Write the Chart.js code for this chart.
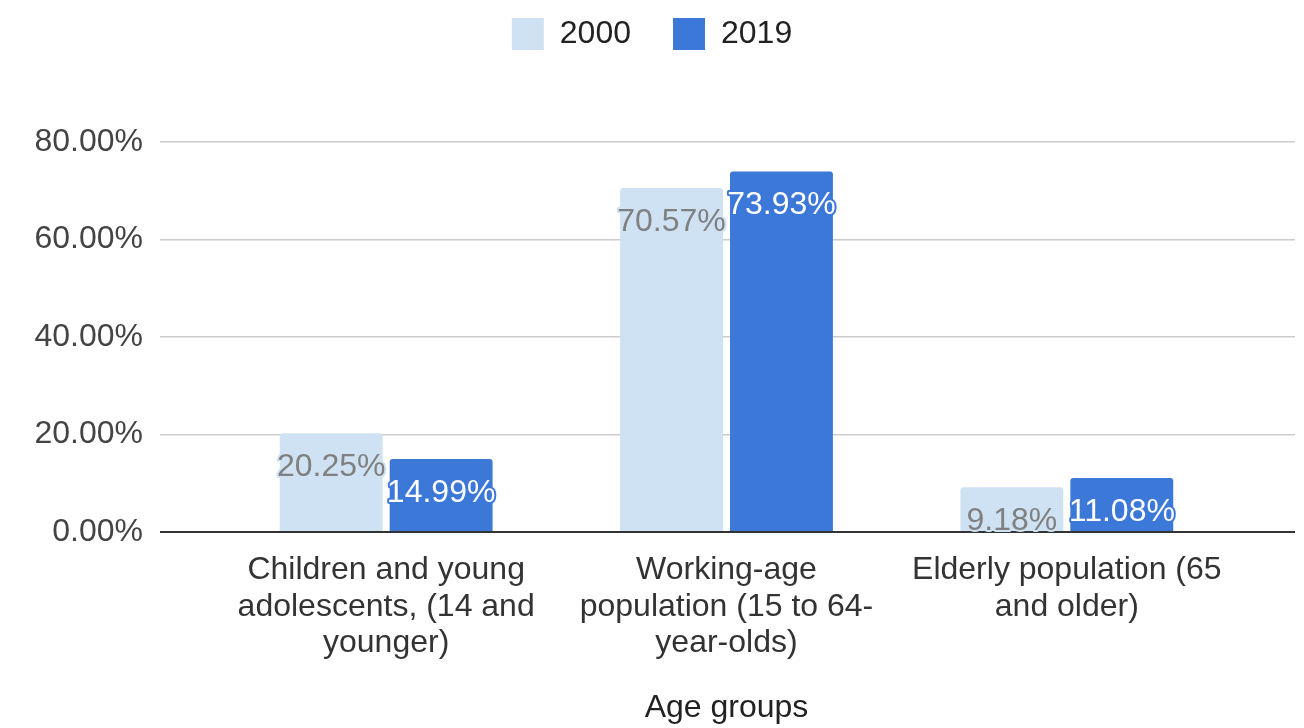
<!DOCTYPE html>
<html lang="en">
<head>
  <meta charset="UTF-8" />
  <title>Age groups 2000 vs 2019</title>
  <script src="https://cdn.jsdelivr.net/npm/chart.js"></script>
  <style>
    body { margin: 0; background: #fff; }
    canvas { display: block; }
  </style>
</head>
<body>
  <canvas id="ageChart" width="1304" height="728"></canvas>

  <script>
    // data
    const categories = [
      ['Children and young', 'adolescents, (14 and', 'younger)'],
      ['Working-age', 'population (15 to 64-', 'year-olds)'],
      ['Elderly population (65', 'and older)']
    ];
    const seriesNames = ['2000', '2019'];
    const values2000 = [20.25, 70.57, 9.18];
    const values2019 = [14.99, 73.93, 11.08];
    const yTickValues = [0, 20, 40, 60, 80];

    const FONT = "'Liberation Sans', Arial, sans-serif";
    const colors = ['#cfe2f3', '#3c78d8'];
    const labelColors = ['#808080', '#ffffff'];
    const TOP_PAD = -24;

    const pct = v => v.toFixed(2) + '%';

    // extra room under the legend so the plot starts at y=142
    const legendGap = {
      id: 'legendGap',
      beforeInit(chart) {
        const fit = chart.legend.fit;
        chart.legend.fit = function () {
          fit.call(this);
          this.height = 142 - TOP_PAD;
        };
      }
    };

    // value labels inside the top of each bar
    const barLabels = {
      id: 'barLabels',
      afterDatasetsDraw(chart) {
        const ctx = chart.ctx;
        ctx.save();
        ctx.font = '32px ' + FONT;
        ctx.textAlign = 'center';
        ctx.textBaseline = 'middle';
        ctx.lineJoin = 'round';
        chart.data.datasets.forEach((ds, i) => {
          chart.getDatasetMeta(i).data.forEach((bar, j) => {
            const txt = pct(ds.data[j]);
            const y = bar.y + 34;
            ctx.lineWidth = 4;
            ctx.strokeStyle = colors[i];
            ctx.strokeText(txt, bar.x, y);
            ctx.fillStyle = labelColors[i];
            ctx.fillText(txt, bar.x, y);
          });
        });
        ctx.restore();
      }
    };

    const gridColor = c => (c.tick && c.tick.value === 0 ? '#333333' : '#cccccc');
    const gridWidth = c => (c.tick && c.tick.value === 0 ? 2 : 1.5);
    const setTicks = s => { s.ticks = yTickValues.map(v => ({ value: v })); };

    new Chart(document.getElementById('ageChart'), {
      type: 'bar',
      data: {
        labels: categories,
        datasets: [
          {
            label: seriesNames[0],
            data: values2000,
            backgroundColor: colors[0],
            borderRadius: { topLeft: 3, topRight: 3 },
            borderSkipped: 'start'
          },
          {
            label: seriesNames[1],
            data: values2019,
            backgroundColor: colors[1],
            borderRadius: { topLeft: 3, topRight: 3 },
            borderSkipped: 'start'
          }
        ]
      },
      options: {
        responsive: false,
        animation: false,
        categoryPercentage: 0.646,
        barPercentage: 0.936,
        layout: { padding: { top: TOP_PAD, left: 0, right: 0, bottom: 0 } },
        plugins: {
          legend: {
            position: 'top',
            labels: {
              boxWidth: 32,
              boxHeight: 32,
              padding: 42,
              color: '#222',
              font: { family: FONT, size: 32 }
            }
          },
          tooltip: { enabled: false }
        },
        scales: {
          x: {
            grid: { display: false },
            border: { display: false },
            ticks: {
              color: '#333',
              padding: 12,
              maxRotation: 0,
              autoSkip: false,
              font: { family: FONT, size: 32, lineHeight: 1.14 }
            },
            title: {
              display: true,
              text: 'Age groups',
              color: '#222',
              padding: { top: 0, bottom: 1 },
              font: { family: FONT, size: 32 }
            },
            afterFit(s) { s.height = 196; }
          },
          y: {
            position: 'left',
            min: yTickValues[0],
            max: yTickValues[yTickValues.length - 1],
            afterBuildTicks: setTicks,
            border: { display: false },
            grid: { color: gridColor, lineWidth: gridWidth, drawTicks: true, tickLength: 56 },
            ticks: {
              color: '#444',
              padding: 17,
              font: { family: FONT, size: 32 },
              callback: v => pct(v)
            },
            afterFit(s) { s.width = 216; }
          },
          yRight: {
            position: 'right',
            min: yTickValues[0],
            max: yTickValues[yTickValues.length - 1],
            afterBuildTicks: setTicks,
            border: { display: false },
            grid: { color: gridColor, lineWidth: gridWidth, drawOnChartArea: false, drawTicks: true, tickLength: 58 },
            ticks: { display: false },
            afterFit(s) { s.width = 67; }
          }
        }
      },
      plugins: [legendGap, barLabels]
    });
  </script>
</body>
</html>
